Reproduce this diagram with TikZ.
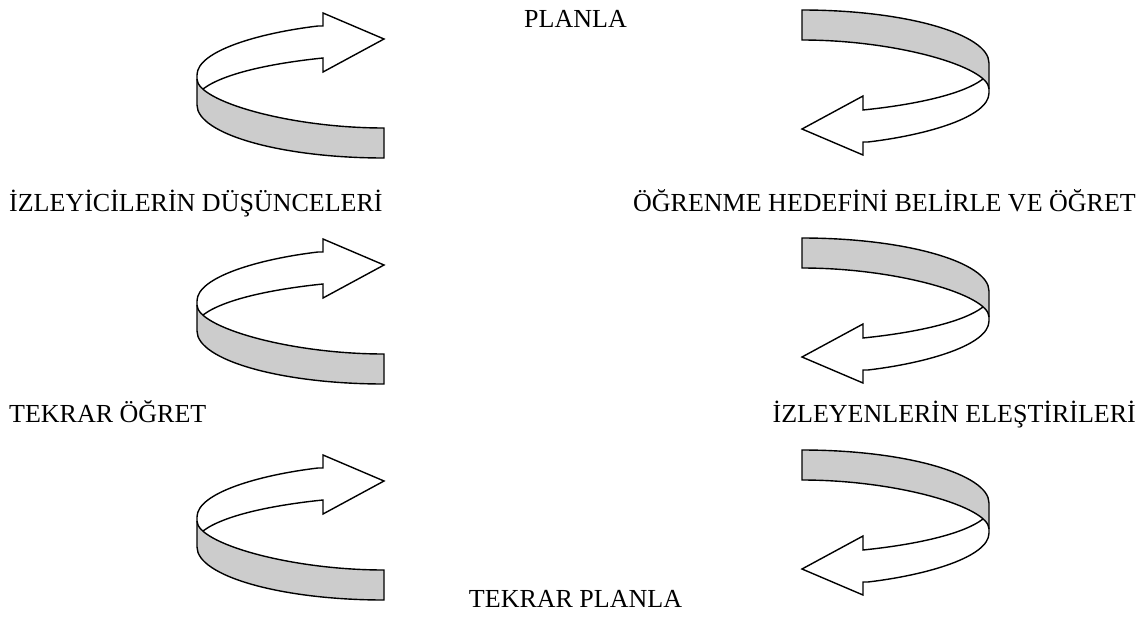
\documentclass[tikz,border=0pt]{standalone}
\usepackage{fontspec}
\setmainfont{Liberation Serif}
\definecolor{bandgray}{RGB}{204,204,204}
\tikzset{
  lbl/.style={font=\fontsize{26}{30}\selectfont, inner sep=0pt},
  outl/.style={draw=black, line width=1.4pt},
  ribbon/.pic={
    \fill[bandgray] (-187,40) .. controls (-187,62) and (-95,89) .. (0,89)
      -- (0,119) .. controls (-103,119) and (-187,95) .. (-187,66) -- cycle;
    \draw[outl] (-187,40) .. controls (-187,62) and (-95,89) .. (0,89)
      -- (0,119) .. controls (-103,119) and (-187,95) .. (-187,66);
    \draw[outl] (-187,66) -- (-187,36) .. controls (-187,12) and (-125,-6) .. (-66,-13)
      -- (-61,-13) -- (-61,-26) -- (0,0) -- (-61,33) -- (-61,19)
      .. controls (-110,24) and (-160,34) .. (-181,50);
  }
}
\begin{document}
\begin{tikzpicture}[x=1pt,y=-1pt]
\useasboundingbox[fill=white] (0,0) rectangle (1146,616);
% left arrows
\pic at (384,39) {ribbon};
\pic at (384,265) {ribbon};
\pic at (384,481) {ribbon};
% right arrows
\pic[rotate=180] at (802,129) {ribbon};
\pic[rotate=180] at (802,357) {ribbon};
\pic[rotate=180] at (802,569) {ribbon};
% labels
\node[lbl, anchor=base] (planla) at (575.5,27) {PLANLA};
\node[lbl, anchor=base west] (izleyici) at (9,211) {İZLEYİCİLERİN DÜŞÜNCELERİ};
\node[lbl, anchor=base east] (ogrenme) at (1136,211) {ÖĞRENME HEDEFİNİ BELİRLE VE ÖĞRET};
\node[lbl, anchor=base west] (tekrarogret) at (9,422) {TEKRAR ÖĞRET};
\node[lbl, anchor=base east] (elestiri) at (1136,422) {İZLEYENLERİN ELEŞTİRİLERİ};
\node[lbl, anchor=base] (tekrarplanla) at (575.5,607) {TEKRAR PLANLA};
\end{tikzpicture}
\end{document}
